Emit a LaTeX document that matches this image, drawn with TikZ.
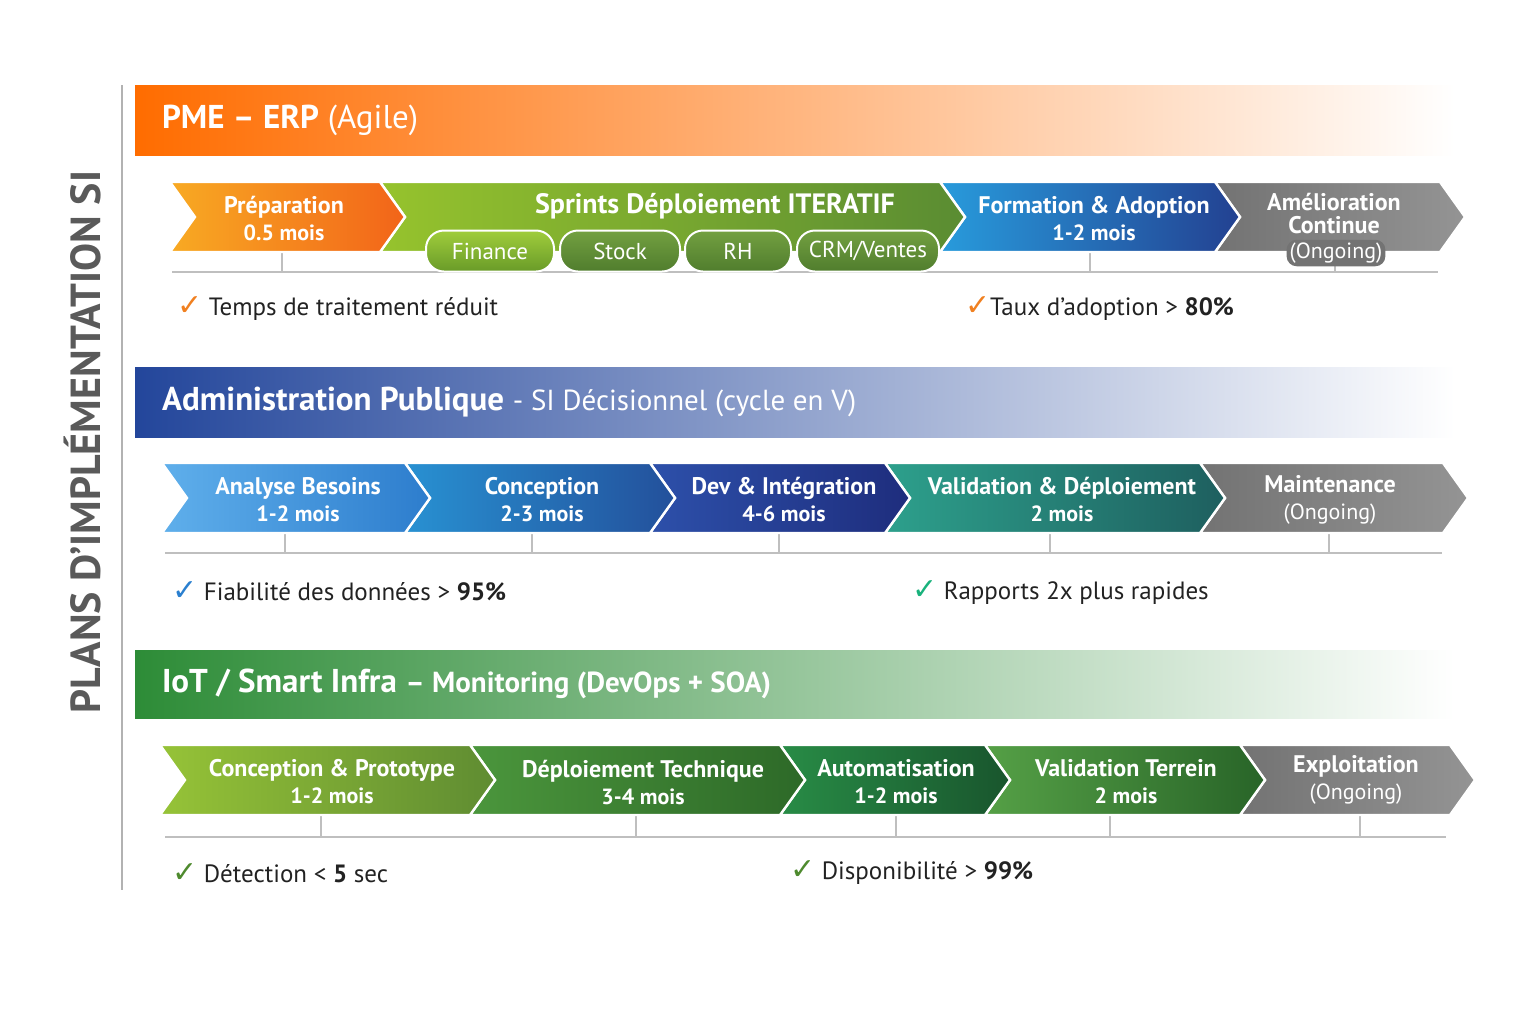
\documentclass[tikz,border=0pt]{standalone}
\usepackage{fontspec}
\setmainfont{PT Sans}
\newfontfamily\symfont{DejaVu Sans}
\usetikzlibrary{positioning}
\definecolor{ink}{HTML}{222222}
\definecolor{greytxt}{HTML}{5A5A5A}
\definecolor{chkorange}{HTML}{F08020}
\definecolor{chkblue}{HTML}{2A7FCF}
\definecolor{chkgreen}{HTML}{4E8A2E}
\newcommand{\subsz}{\fontsize{11}{13}\selectfont}
\newcommand{\tick}[1]{{\symfont\bfseries\fontsize{15}{14}\selectfont\color{#1}✓}}
% chevron: x1, x2, y-top, y-bottom, left colour, right colour
\newcommand{\chevron}[6]{%
  \shade[left color=#5, right color=#6, draw=white, line width=1.2pt]
    (#1,#3) -- (#2,#3) -- ({#2+25},{(#3+#4)/2}) -- (#2,#4) -- (#1,#4)
    -- ({#1+25},{(#3+#4)/2}) -- cycle;}
\tikzset{
  phase/.style={text=white, font=\bfseries\fontsize{12}{13.5}\selectfont, align=center},
  banner/.style={text=white, anchor=west, font=\fontsize{16.5}{18}\selectfont},
  check/.style={anchor=west, text=ink, font=\fontsize{12.5}{14}\selectfont},
  pill/.style={rounded corners=9pt, draw=white, line width=1pt, minimum width=#1,
    minimum height=20.5pt, text=white, font=\fontsize{11.5}{12}\selectfont},
  rule/.style={draw=black!25, line width=1pt}
}
\begin{document}
\begin{tikzpicture}[x=0.5pt, y=-0.5pt]
  \useasboundingbox (0,0) rectangle (1536,1024);
  % Title
  \draw[black!30, line width=1pt] (122,85) -- (122,890);
  \node[rotate=90, text=greytxt, font=\bfseries\fontsize{21}{22}\selectfont] (title) at (83,442) {PLANS D'IMPLÉMENTATION SI};

  % Banners
  \shade[left color=orange!85!red, middle color=orange!75!white, right color=white] (135,85) rectangle (1455,155);
  \node[banner] (ban1) at (155,120) {\textbf{PME – ERP} (Agile)};
  \shade[left color={rgb,255:red,35;green,70;blue,155}, middle color={rgb,255:red,100;green,130;blue,200}, right color=white] (135,367) rectangle (1455,437);
  \node[banner] (ban2) at (155,402) {\textbf{Administration Publique} \fontsize{14.5}{16}\selectfont - SI Décisionnel (cycle en V)};
  \shade[left color={rgb,255:red,45;green,140;blue,55}, middle color={rgb,255:red,110;green,160;blue,80}, right color=white] (135,650) rectangle (1455,718);
  \node[banner] (ban3) at (155,684) {\textbf{IoT / Smart Infra} \fontsize{14.5}{16}\selectfont\bfseries – Monitoring (DevOps + SOA)};

  % Row 1
  \draw[rule] (172,272) -- (1438,272);
  \foreach \x in {282,1090,1335} \draw[rule] (\x,252) -- (\x,272);
  \chevron{1215}{1440}{182}{252}{black!55}{black!42}
  \chevron{940}{1215}{182}{252}{{rgb,255:red,40;green,155;blue,220}}{{rgb,255:red,35;green,65;blue,145}}
  \chevron{380}{940}{182}{252}{{rgb,255:red,150;green,195;blue,45}}{{rgb,255:red,90;green,140;blue,50}}
  \chevron{170}{380}{182}{252}{{rgb,255:red,248;green,170;blue,35}}{{rgb,255:red,242;green,100;blue,25}}
  \node[phase] (prep) at (284,219) {Préparation\\{\subsz 0.5 mois}};
  \node[phase, font=\bfseries\fontsize{14}{15}\selectfont] (sprint) at (715,206) {Sprints Déploiement ITERATIF};
  \node[phase] (form) at (1094,219) {Formation \& Adoption\\{\subsz 1-2 mois}};
  \node[phase, font=\bfseries\fontsize{12}{11.5}\selectfont] (amel) at (1334,214) {Amélioration\\Continue};
  \node[rounded corners=5pt, fill=black!55, text=white, inner sep=1.5pt, font=\subsz] (ongo) at (1336,253) {(Ongoing)};
  \node[pill=64pt, top color={rgb,255:red,160;green,205;blue,60}, bottom color={rgb,255:red,105;green,155;blue,40}] (fin) at (490,251) {Finance};
  \node[pill=60pt, top color={rgb,255:red,115;green,160;blue,65}, bottom color={rgb,255:red,80;green,125;blue,45}] (stock) at (620,251) {Stock};
  \node[pill=53pt, top color={rgb,255:red,115;green,160;blue,65}, bottom color={rgb,255:red,80;green,125;blue,45}] (rh) at (738,251) {RH};
  \node[pill=71pt, top color={rgb,255:red,115;green,160;blue,65}, bottom color={rgb,255:red,80;green,125;blue,45}] (crm) at (868,251) {CRM/Ventes};
  \node[check] (c1a) at (170,309) {\tick{chkorange} Temps de traitement réduit};
  \node[check] (c1b) at (958,309) {\tick{chkorange}Taux d'adoption > \textbf{80\%}};

  % Row 2
  \draw[rule] (165,553) -- (1442,553);
  \foreach \x in {285,532,779,1050,1329} \draw[rule] (\x,533) -- (\x,553);
  \chevron{1200}{1443}{463}{533}{black!55}{black!42}
  \chevron{885}{1200}{463}{533}{{rgb,255:red,45;green,160;blue,140}}{{rgb,255:red,30;green,95;blue,95}}
  \chevron{650}{885}{463}{533}{{rgb,255:red,45;green,80;blue,170}}{{rgb,255:red,30;green,45;blue,125}}
  \chevron{405}{650}{463}{533}{{rgb,255:red,40;green,145;blue,210}}{{rgb,255:red,35;green,80;blue,155}}
  \chevron{162}{405}{463}{533}{{rgb,255:red,95;green,175;blue,235}}{{rgb,255:red,45;green,125;blue,205}}
  \node[phase] (ana) at (298,500) {Analyse Besoins\\{\subsz 1-2 mois}};
  \node[phase] (concv) at (542,500) {Conception\\{\subsz 2-3 mois}};
  \node[phase] (dev) at (784,500) {Dev \& Intégration\\{\subsz 4-6 mois}};
  \node[phase] (valv) at (1062,500) {Validation \& Déploiement\\{\subsz 2 mois}};
  \node[phase] (maint) at (1330,500) {Maintenance\\{\mdseries\subsz (Ongoing)}};
  \node[check] (c2a) at (165,591) {\tick{chkblue} Fiabilité des données > \textbf{95\%}};
  \node[check] (c2b) at (905,593) {\tick{chkblue!60!green} Rapports 2x plus rapides};

  % Row 3
  \draw[rule] (165,837) -- (1446,837);
  \foreach \x in {321,636,896,1110,1360} \draw[rule] (\x,815) -- (\x,837);
  \chevron{1240}{1450}{745}{815}{black!55}{black!42}
  \chevron{985}{1240}{745}{815}{{rgb,255:red,85;green,160;blue,70}}{{rgb,255:red,40;green,100;blue,40}}
  \chevron{780}{985}{745}{815}{{rgb,255:red,40;green,140;blue,70}}{{rgb,255:red,25;green,85;blue,45}}
  \chevron{470}{780}{745}{815}{{rgb,255:red,75;green,150;blue,60}}{{rgb,255:red,45;green,105;blue,40}}
  \chevron{160}{470}{745}{815}{{rgb,255:red,150;green,195;blue,55}}{{rgb,255:red,95;green,140;blue,50}}
  \node[phase] (proto) at (332,782) {Conception \& Prototype\\{\subsz 1-2 mois}};
  \node[phase] (deploy) at (643,782) {Déploiement Technique\\{\subsz 3-4 mois}};
  \node[phase] (auto) at (896,782) {Automatisation\\{\subsz 1-2 mois}};
  \node[phase] (valt) at (1126,782) {Validation Terrein\\{\subsz 2 mois}};
  \node[phase] (exploit) at (1356,780) {Exploitation\\{\mdseries\subsz (Ongoing)}};
  \node[check] (c3a) at (165,873) {\tick{chkgreen} Détection < \textbf{5} sec};
  \node[check] (c3b) at (783,873) {\tick{chkgreen} Disponibilité > \textbf{99\%}};
\end{tikzpicture}
\end{document}
